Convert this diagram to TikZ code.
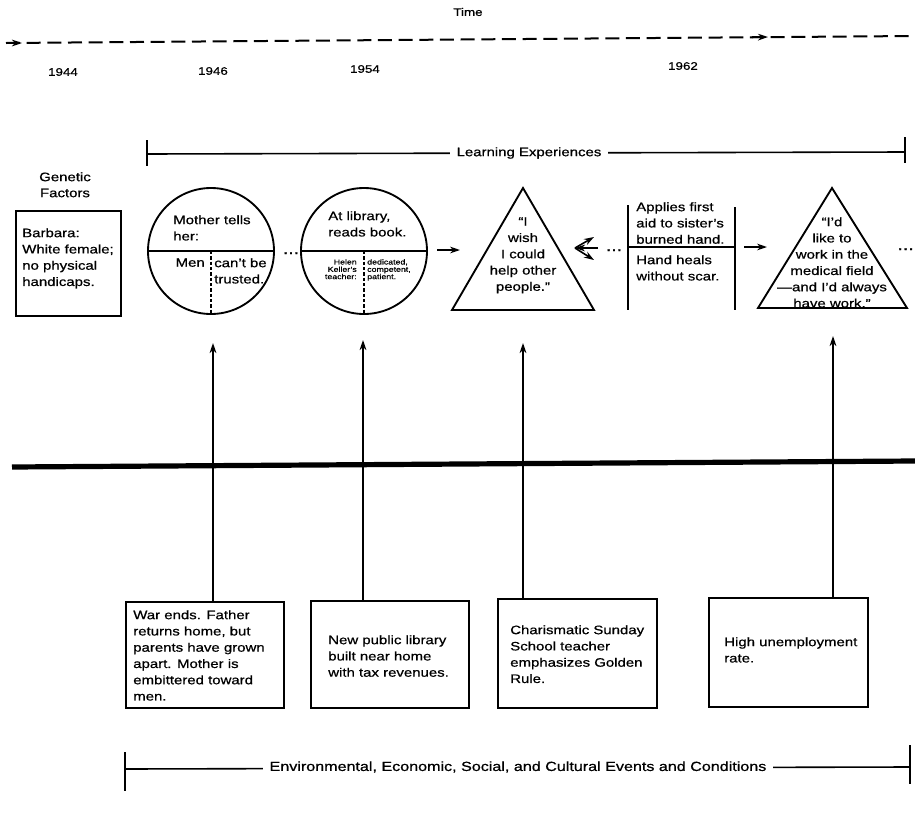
\documentclass[tikz,border=0pt]{standalone}
\usepackage{fontspec}
\setmainfont{Liberation Sans}[FakeStretch=1.22, FakeBold=0.7]
\usetikzlibrary{arrows.meta}
\begin{document}
\begin{tikzpicture}[x=0.75pt,y=-0.75pt,
  body/.style={inner sep=0pt, font=\fontsize{9.2}{12.2}\selectfont, align=left},
  cbody/.style={body, align=center},
  tiny/.style={inner sep=0pt, font=\fontsize{5.4}{5.5}\selectfont},
  lbl/.style={inner sep=0pt, font=\fontsize{9.2}{12}\selectfont},
  yr/.style={inner sep=0pt, font=\fontsize{8.2}{10}\selectfont},
  frame/.style={draw, line width=1.4pt},
  bracket/.style={draw, line width=1.2pt},
  tip/.style={-{Stealth[length=7.5pt,width=5pt]}},
  uparr/.style={line width=1.4pt, tip},
  gaparr/.style={line width=1.2pt, tip},
  dashline/.style={line width=1.5pt, dash pattern=on 10.5pt off 5pt},
  dots/.style={inner sep=0pt, font=\fontsize{12}{12}\selectfont}]
\useasboundingbox (0,0) rectangle (915,818);

% time axis
\node[yr] (time) at (468,12) {Time};
\coordinate (tl0) at (6,43);
\coordinate (tl1) at (915,36);
\coordinate (tla) at (22,43);
\coordinate (tlb) at (752,37.2);
\coordinate (tlc) at (768,37);
\draw[dashline] (tl0) -- (tl1);
\draw[line width=1.5pt, tip] (tl0) -- (tla);
\draw[line width=1.5pt, tip] (tlb) -- (tlc);

\node[yr] (y44) at (63,72) {1944};
\node[yr] (y46) at (213,71) {1946};
\node[yr] (y54) at (365,69) {1954};
\node[yr] (y62) at (683,66) {1962};

% learning experiences bracket
\draw[bracket] (147,140) -- (147,166);
\draw[bracket] (905,137) -- (905,163);
\draw[bracket] (147,154) -- (905,152);
\node[lbl, fill=white, inner xsep=5pt, inner ysep=2pt] (learn) at (529,153) {Learning Experiences};

% genetic factors
\node[lbl, align=center, anchor=north] (gen) at (65,172) {Genetic\\Factors};
\node[frame, minimum width=78.75pt, minimum height=78.75pt, anchor=north west] (gbox) at (15,210) {};
\node[body, anchor=north west] (gtxt) at (22,228) {Barbara:\\White female;\\no physical\\handicaps.};

% first circle
\node[frame, circle, minimum size=94.5pt, inner sep=0pt] (c1) at (211,251) {};
\draw[frame] (c1.west) -- (c1.east);
\draw[line width=1.2pt, dash pattern=on 2.5pt off 1.5pt] (c1.center) -- (c1.south);
\node[body, anchor=north west] (c1top) at (173,215) {Mother tells\\her:};
\node[body, anchor=north east] (c1l) at (205,258) {Men};
\node[body, anchor=north west] (c1r) at (214,258) {can't be\\trusted.};

\node[dots, anchor=base] (d1) at (291,254) {...};

% second circle
\node[frame, circle, minimum size=94.5pt, inner sep=0pt] (c2) at (364,251) {};
\draw[frame] (c2.west) -- (c2.east);
\draw[line width=1.2pt, dash pattern=on 2.5pt off 1.5pt] (c2.center) -- (c2.south);
\node[body, anchor=north west] (c2top) at (328,211) {At library,\\reads book.};
\node[tiny, align=right, anchor=north east] (c2l) at (357,259) {Helen\\Keller's\\teacher:};
\node[tiny, align=left, anchor=north west] (c2r) at (367,259) {dedicated,\\competent,\\patient.};

% arrow into first triangle
\coordinate (g1a) at (437,250);
\coordinate (g1b) at (460,250);
\draw[gaparr] (g1a) -- (g1b);

% first triangle
\coordinate (t1a) at (523,188);
\coordinate (t1r) at (594,310);
\coordinate (t1l) at (452,310);
\draw[frame, line join=miter] (t1a) -- (t1r) -- (t1l) -- cycle;
\node[cbody, anchor=north] (t1txt) at (523,217) {``I\\wish\\I could\\help other\\people.''};

% branching arrow
\coordinate (fk0) at (598,248);
\coordinate (fk1) at (575,248);
\coordinate (fk2) at (594,237);
\coordinate (fk3) at (594,260);
\draw[gaparr] (fk0) -- (fk1);
\draw[gaparr] (fk1) -- (fk2);
\draw[gaparr] (fk1) -- (fk3);

\node[dots, anchor=base] (d2) at (614,251) {...};

% first-aid element
\draw[frame] (628,205) -- (628,310);
\draw[frame] (735,207) -- (735,310);
\draw[frame] (628,247) -- (735,247);
\node[body, anchor=north west] (fatop) at (636,202) {Applies first\\aid to sister's\\burned hand.};
\node[body, anchor=north west] (fabot) at (636,255) {Hand heals\\without scar.};

\coordinate (g2a) at (744,247);
\coordinate (g2b) at (767,247);
\draw[gaparr] (g2a) -- (g2b);

% second triangle
\coordinate (t2a) at (832,188);
\coordinate (t2r) at (907,308);
\coordinate (t2l) at (758,308);
\draw[frame, line join=miter] (t2a) -- (t2r) -- (t2l) -- cycle;
\node[cbody, anchor=north] (t2txt) at (832,217) {``I'd\\like to\\work in the\\medical field\\---and I'd always\\have work.''};

\node[dots, anchor=base east] (d3) at (914,250) {...};

% dividing line
\draw[line width=3.9pt] (12,467) -- (915,461);

% event boxes
\node[frame, minimum width=118.5pt, minimum height=79.5pt, anchor=north west] (b1) at (125,601) {};
\node[body, anchor=north west] (b1t) at (133,610) {War ends. Father\\returns home, but\\parents have grown\\apart. Mother is\\embittered toward\\men.};
\node[frame, minimum width=118.5pt, minimum height=80.25pt, anchor=north west] (b2) at (310,600) {};
\node[body, anchor=north west] (b2t) at (328,635) {New public library\\built near home\\with tax revenues.};
\node[frame, minimum width=119.25pt, minimum height=81.75pt, anchor=north west] (b3) at (497,598) {};
\node[body, anchor=north west] (b3t) at (510,625) {Charismatic Sunday\\School teacher\\emphasizes Golden\\Rule.};
\node[frame, minimum width=119.25pt, minimum height=81.75pt, anchor=north west] (b4) at (708,597) {};
\node[body, anchor=north west] (b4t) at (724,637) {High unemployment\\rate.};

\coordinate (a1) at (213,343);
\coordinate (a2) at (363,340);
\coordinate (a3) at (523,343);
\coordinate (a4) at (833,336);
\draw[uparr] (b1.north -| a1) -- (a1);
\draw[uparr] (b2.north -| a2) -- (a2);
\draw[uparr] (b3.north -| a3) -- (a3);
\draw[uparr] (b4.north -| a4) -- (a4);

% environmental bracket
\draw[bracket] (125,752) -- (125,791);
\draw[bracket] (910,745) -- (910,784);
\draw[bracket] (125,769) -- (910,767);
\node[lbl, font=\fontsize{9.9}{12}\selectfont, fill=white, inner xsep=5pt, inner ysep=2pt] (env) at (518,767) {Environmental, Economic, Social, and Cultural Events and Conditions};
\end{tikzpicture}
\end{document}
